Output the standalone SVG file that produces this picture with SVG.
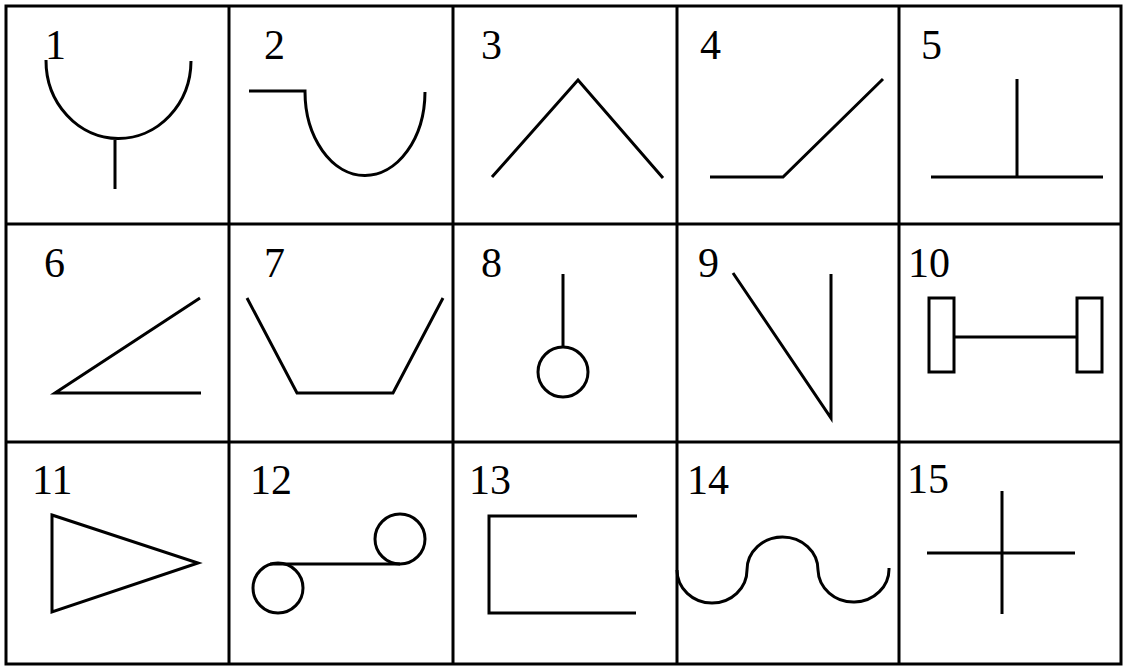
<svg xmlns="http://www.w3.org/2000/svg" width="1126" height="666" viewBox="0 0 1126 666">
<style>
.g{fill:none;stroke:#000;stroke-width:3}
.s{fill:none;stroke:#000;stroke-width:3;stroke-linejoin:miter}
.t{font-family:"Liberation Serif","Times New Roman",serif;font-size:42px;fill:#000}
</style>
<rect width="1126" height="666" fill="#fff"/>
<g id="grid" class="g">
<rect x="6" y="6" width="1115" height="658"/>
<line x1="229" y1="6" x2="229" y2="664"/>
<line x1="453" y1="6" x2="453" y2="664"/>
<line x1="677" y1="6" x2="677" y2="664"/>
<line x1="899" y1="6" x2="899" y2="664"/>
<line x1="6" y1="224" x2="1121" y2="224"/>
<line x1="6" y1="442" x2="1121" y2="442"/>
</g>
<g id="cell1"><text class="t" x="45" y="59">1</text><path class="s" d="M46,60 A72.5,78 0 0 0 191,61 M115,138 V189"/></g>
<g id="cell2"><text class="t" x="264" y="59">2</text><path class="s" d="M249,91 H305 A60,84 0 0 0 425,92"/></g>
<g id="cell3"><text class="t" x="481" y="59">3</text><path class="s" d="M492,177 L578,80 L663,178"/></g>
<g id="cell4"><text class="t" x="700" y="59">4</text><path class="s" d="M710,177 H783 L883,79"/></g>
<g id="cell5"><text class="t" x="921" y="59">5</text><path class="s" d="M931,177 H1103 M1017,79 V177"/></g>
<g id="cell6"><text class="t" x="44" y="277">6</text><path class="s" d="M200,298 L55,393 H201"/></g>
<g id="cell7"><text class="t" x="264" y="277">7</text><path class="s" d="M247,298 L297,393 H393 L443,298"/></g>
<g id="cell8"><text class="t" x="481" y="277">8</text><path class="s" d="M563,274 V347"/><circle class="s" cx="563" cy="372" r="25"/></g>
<g id="cell9"><text class="t" x="698" y="277">9</text><path class="s" d="M733,273 L831,418 V274"/></g>
<g id="cell10"><text class="t" x="908" y="277">10</text><rect class="s" x="929" y="298" width="25" height="74"/><rect class="s" x="1077" y="298" width="25" height="74"/><path class="s" d="M954,337 H1077"/></g>
<g id="cell11"><text class="t" x="32" y="494">11</text><path class="s" d="M52,515 L198,563 L52,612 Z"/></g>
<g id="cell12"><text class="t" x="250" y="494">12</text><circle class="s" cx="278" cy="588" r="25"/><circle class="s" cx="400" cy="539" r="25"/><path class="s" d="M270,564 H400"/></g>
<g id="cell13"><text class="t" x="469" y="494">13</text><path class="s" d="M637,516 H489 V613 H636"/></g>
<g id="cell14"><text class="t" x="687" y="494">14</text><path class="s" d="M677,570 A35,33 0 0 0 747,570 A35.5,33 0 0 1 818,570 A35.5,33 0 0 0 889,568"/></g>
<g id="cell15"><text class="t" x="907" y="493">15</text><path class="s" d="M927,553 H1075 M1002,491 V614"/></g>
</svg>
